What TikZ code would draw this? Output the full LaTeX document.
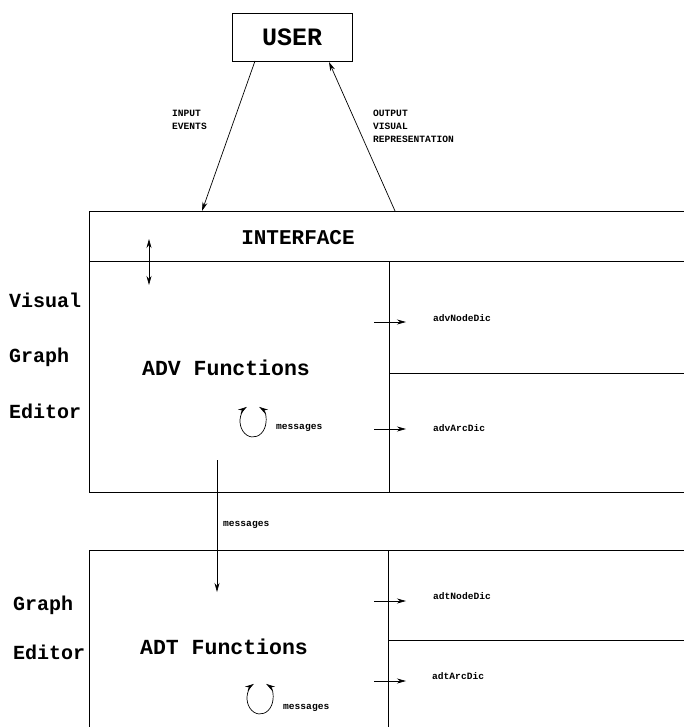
\documentclass[tikz,border=0pt]{standalone}
\usepackage{fontspec}
\newfontfamily\cour{Liberation Mono}
\usetikzlibrary{arrows.meta,calc}
\begin{document}
\begin{tikzpicture}[x=1pt,y=-1pt,
  every node/.style={font=\cour\bfseries, inner sep=0pt},
  ln/.style={line width=0.8pt},
  arr/.style={line width=0.7pt,-{Stealth[length=9pt,width=5pt]}},
  darr/.style={line width=0.7pt,{Stealth[length=9pt,width=5pt]}-{Stealth[length=9pt,width=5pt]}},
  big/.style={font=\cour\bfseries\fontsize{21}{24}\selectfont},
  side/.style={font=\cour\bfseries\fontsize{20}{24}\selectfont, anchor=west},
  small/.style={font=\cour\bfseries\fontsize{9.6}{13}\selectfont, anchor=west, align=left},
  dic/.style={font=\cour\bfseries\fontsize{9.6}{12}\selectfont, anchor=west}]
\useasboundingbox (0,0) rectangle (684,727);
\fill[white] (0,0) rectangle (684,727);

% USER
\node[draw, ln, minimum width=120pt, minimum height=48pt, font=\cour\bfseries\fontsize{25}{27}\selectfont] (user) at (292,37) {USER};

% top box
\coordinate (tl) at (89,211);
\coordinate (tr) at (684,211);
\coordinate (il) at (89,261);
\coordinate (ir) at (684,261);
\coordinate (bl) at (89,492);
\coordinate (br) at (684,492);
\draw[ln] (tr) -- (tl) -- (bl) -- (br);
\draw[ln] (il) -- (ir);
\coordinate (d1t) at (389,261);
\coordinate (d1b) at (389,492);
\draw[ln] (d1t) -- (d1b);
\coordinate (h1l) at (389,373);
\coordinate (h1r) at (684,373);
\draw[ln] (h1l) -- (h1r);

\node[big] (iface) at (298,238) {INTERFACE};

% user arrows
\coordinate (inS) at (255,61);
\coordinate (inE) at (202,211);
\draw[arr] (inS) -- (inE);
\coordinate (outS) at (395,211);
\coordinate (outE) at (329,62);
\draw[arr] (outS) -- (outE);
\node[small, anchor=north west] (inlab) at (172,110) {INPUT\\EVENTS};
\node[small, anchor=north west] (outlab) at (373,110) {OUTPUT\\VISUAL\\REPRESENTATION};

% double arrow
\coordinate (da1) at (149,239);
\coordinate (da2) at (149,285);
\draw[darr] (da1) -- (da2);

% ADV
\node[font=\cour\bfseries\fontsize{21.5}{24}\selectfont] (adv) at (226,368) {ADV Functions};
\node[side] (vis) at (9,300) {Visual};
\node[side] (gr1) at (9,357) {Graph};
\node[side] (ed1) at (9,411) {Editor};

\coordinate (cyc1) at (253,421);
\draw[darr] ($(cyc1)+({13*cos(-62)},{16*sin(-62)})$) arc[start angle=-62, end angle=242, x radius=13, y radius=16];
\node[dic] (msg1) at (276,428) {messages};

\coordinate (a1s) at (374,322);
\coordinate (a1e) at (406,322);
\draw[arr] (a1s) -- (a1e);
\node[dic] (advn) at (433,318) {advNodeDic};
\coordinate (a2s) at (374,429);
\coordinate (a2e) at (406,429);
\draw[arr] (a2s) -- (a2e);
\node[dic] (adva) at (433,428) {advArcDic};

% messages arrow
\coordinate (m1) at (217,460);
\coordinate (m2) at (217,592);
\draw[arr] (m1) -- (m2);
\node[dic] (msg2) at (223,525) {messages};

% bottom box
\coordinate (btl) at (89,550);
\coordinate (btr) at (684,550);
\coordinate (bbl) at (89,727);
\draw[ln] (btr) -- (btl) -- (bbl);
\coordinate (d2t) at (388,550);
\coordinate (d2b) at (388,727);
\draw[ln] (d2t) -- (d2b);
\coordinate (h2l) at (388,640);
\coordinate (h2r) at (684,640);
\draw[ln] (h2l) -- (h2r);

\node[font=\cour\bfseries\fontsize{21.5}{24}\selectfont] (adt) at (224,647) {ADT Functions};
\node[side] (gr2) at (13,605) {Graph};
\node[side] (ed2) at (13,652) {Editor};

\coordinate (cyc2) at (260,698);
\draw[darr] ($(cyc2)+({13*cos(-62)},{16*sin(-62)})$) arc[start angle=-62, end angle=242, x radius=13, y radius=16];
\node[dic] (msg3) at (283,708) {messages};

\coordinate (a3s) at (374,601);
\coordinate (a3e) at (406,601);
\draw[arr] (a3s) -- (a3e);
\node[dic] (adtn) at (433,596) {adtNodeDic};
\coordinate (a4s) at (374,681);
\coordinate (a4e) at (406,681);
\draw[arr] (a4s) -- (a4e);
\node[dic] (adta) at (432,676) {adtArcDic};
\end{tikzpicture}
\end{document}
